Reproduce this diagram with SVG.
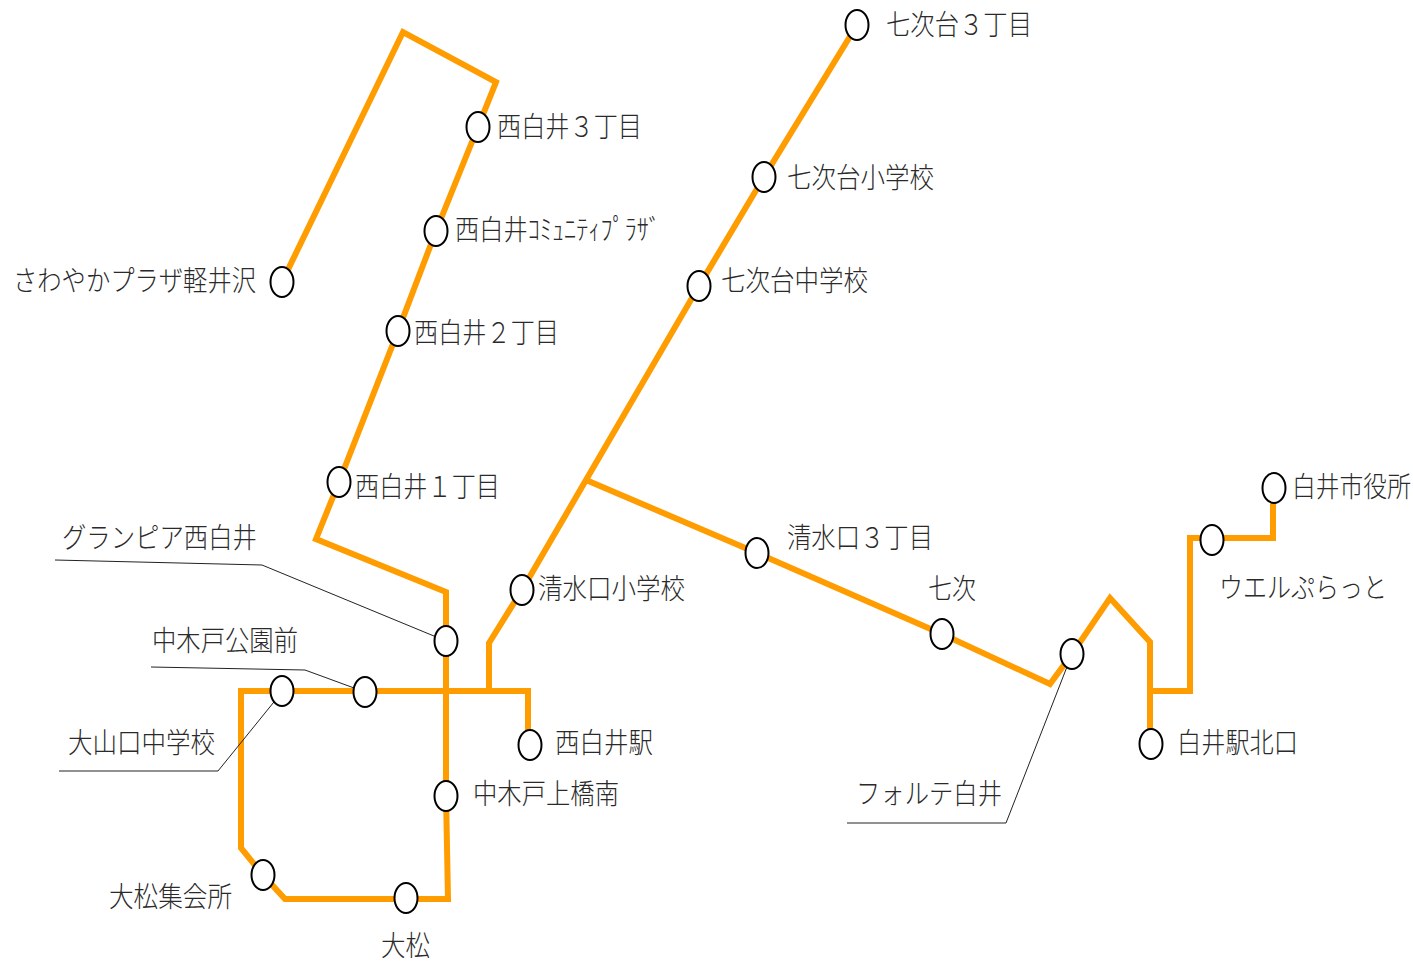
<svg xmlns="http://www.w3.org/2000/svg" width="1413" height="962" viewBox="0 0 1413 962">
<style>
.r{fill:none;stroke:#ff9c00;stroke-width:6;stroke-linejoin:miter;stroke-linecap:butt}
.l{fill:none;stroke:#222;stroke-width:1}
.n{fill:#fff;stroke:#000;stroke-width:2}
text{font-family:"Noto Sans CJK JP","Noto Sans",sans-serif;font-size:28px;font-weight:300;fill:#2a2a2a}
</style>
<rect width="1413" height="962" fill="#fff"/>
<g id="connectors">
<path class="r" d="M282 282L403 32L496 82L478 127L436 231L398 331L339 482L316 539L446 592V641V795L448 899H406H285L263 875L241 848V691H282H365H528V745"/>
<path class="r" d="M857 25L764 177L699 286L586 480L522 590L489 643V691"/>
<path class="r" d="M586 480L757 553L942 634L1050 684L1072 654L1110 598L1150 642V744"/>
<path class="r" d="M1150 691H1190V538H1212H1273V488"/>
<path class="l" d="M55 560L262 565L446 641"/>
<path class="l" d="M151 667L305 670L365 692"/>
<path class="l" d="M59 771H218L282 692"/>
<path class="l" d="M847 823H1006L1072 654"/>
</g>
<g id="n1"><ellipse class="n" cx="282" cy="282" rx="11.5" ry="15"/><text x="13" y="291" textLength="243" lengthAdjust="spacingAndGlyphs">さわやかプラザ軽井沢</text></g>
<g id="n2"><ellipse class="n" cx="478" cy="127" rx="11.5" ry="15"/><text x="497" y="137" textLength="145" lengthAdjust="spacingAndGlyphs">西白井３丁目</text></g>
<g id="n3"><ellipse class="n" cx="436" cy="231" rx="11.5" ry="15"/><text x="455" y="240" textLength="206" lengthAdjust="spacingAndGlyphs">西白井ｺﾐｭﾆﾃｨﾌﾟﾗｻﾞ</text></g>
<g id="n4"><ellipse class="n" cx="398" cy="331" rx="11.5" ry="15"/><text x="414" y="343" textLength="145" lengthAdjust="spacingAndGlyphs">西白井２丁目</text></g>
<g id="n5"><ellipse class="n" cx="339" cy="482" rx="11.5" ry="15"/><text x="355" y="497" textLength="145" lengthAdjust="spacingAndGlyphs">西白井１丁目</text></g>
<g id="n6"><ellipse class="n" cx="446" cy="641" rx="11.5" ry="15"/><text x="62" y="548" textLength="195" lengthAdjust="spacingAndGlyphs">グランピア西白井</text></g>
<g id="n7"><ellipse class="n" cx="365" cy="692" rx="11.5" ry="15"/><text x="152" y="651" textLength="146" lengthAdjust="spacingAndGlyphs">中木戸公園前</text></g>
<g id="n8"><ellipse class="n" cx="282" cy="691" rx="11.5" ry="15"/><text x="68" y="753" textLength="147" lengthAdjust="spacingAndGlyphs">大山口中学校</text></g>
<g id="n9"><ellipse class="n" cx="263" cy="875" rx="11.5" ry="15"/><text x="109" y="907" textLength="123" lengthAdjust="spacingAndGlyphs">大松集会所</text></g>
<g id="n10"><ellipse class="n" cx="406" cy="898" rx="11.5" ry="15"/><text x="381" y="956" textLength="49" lengthAdjust="spacingAndGlyphs">大松</text></g>
<g id="n11"><ellipse class="n" cx="446" cy="796" rx="11.5" ry="15"/><text x="473" y="804" textLength="146" lengthAdjust="spacingAndGlyphs">中木戸上橋南</text></g>
<g id="n12"><ellipse class="n" cx="530" cy="745" rx="11.5" ry="15"/><text x="555" y="753" textLength="98" lengthAdjust="spacingAndGlyphs">西白井駅</text></g>
<g id="n13"><ellipse class="n" cx="522" cy="590" rx="11.5" ry="15"/><text x="538" y="599" textLength="147" lengthAdjust="spacingAndGlyphs">清水口小学校</text></g>
<g id="n14"><ellipse class="n" cx="699" cy="286" rx="11.5" ry="15"/><text x="721" y="291" textLength="147" lengthAdjust="spacingAndGlyphs">七次台中学校</text></g>
<g id="n15"><ellipse class="n" cx="764" cy="177" rx="11.5" ry="15"/><text x="787" y="188" textLength="147" lengthAdjust="spacingAndGlyphs">七次台小学校</text></g>
<g id="n16"><ellipse class="n" cx="857" cy="25" rx="11.5" ry="15"/><text x="886" y="35" textLength="146" lengthAdjust="spacingAndGlyphs">七次台３丁目</text></g>
<g id="n17"><ellipse class="n" cx="757" cy="553" rx="11.5" ry="15"/><text x="787" y="548" textLength="146" lengthAdjust="spacingAndGlyphs">清水口３丁目</text></g>
<g id="n18"><ellipse class="n" cx="942" cy="634" rx="11.5" ry="15"/><text x="928" y="599" textLength="48" lengthAdjust="spacingAndGlyphs">七次</text></g>
<g id="n19"><ellipse class="n" cx="1072" cy="654" rx="11.5" ry="15"/><text x="856" y="804" textLength="146" lengthAdjust="spacingAndGlyphs">フォルテ白井</text></g>
<g id="n20"><ellipse class="n" cx="1151" cy="744" rx="11.5" ry="15"/><text x="1177" y="753" textLength="121" lengthAdjust="spacingAndGlyphs">白井駅北口</text></g>
<g id="n21"><ellipse class="n" cx="1212" cy="540" rx="11.5" ry="15"/><text x="1219" y="598" textLength="168" lengthAdjust="spacingAndGlyphs">ウエルぷらっと</text></g>
<g id="n22"><ellipse class="n" cx="1274" cy="488" rx="11.5" ry="15"/><text transform="translate(1292 497) scale(.85 1)">白井市役所</text></g>
</svg>
